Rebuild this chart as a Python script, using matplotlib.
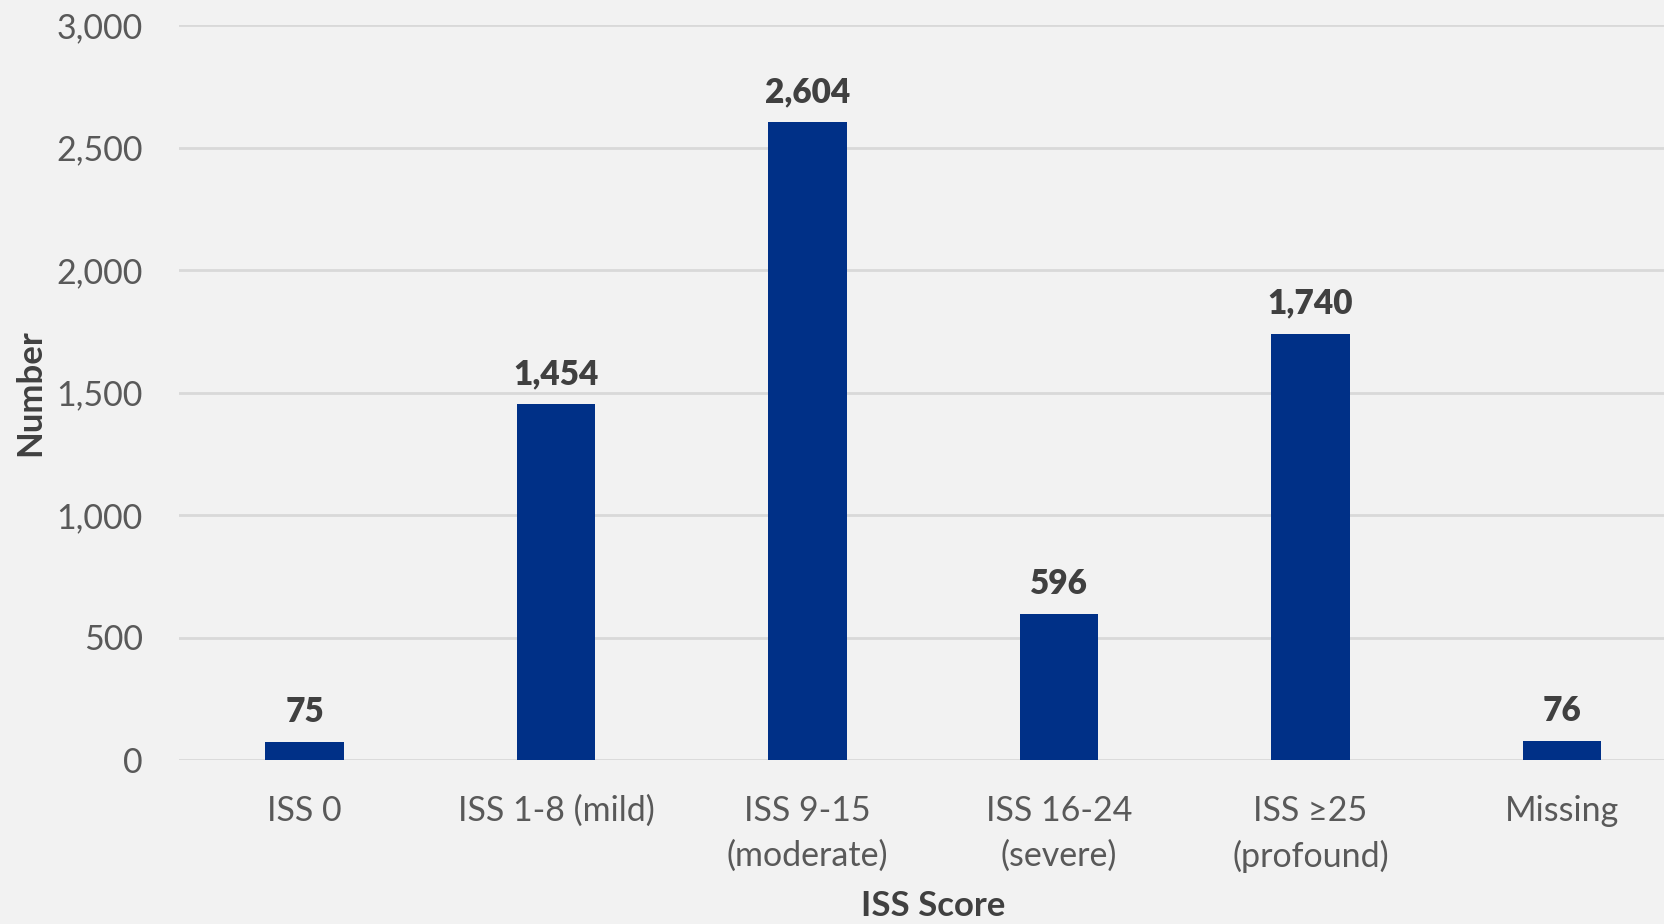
import numpy as np
import matplotlib
matplotlib.use('Agg')
import matplotlib.pyplot as plt

categories = ['ISS 0', 'ISS 1-8 (mild)', 'ISS 9-15\n(moderate)', 'ISS 16-24\n(severe)', 'ISS \u226525\n(profound)', 'Missing']
values = [75, 1454, 2604, 596, 1740, 76]
yticks = [0, 500, 1000, 1500, 2000, 2500, 3000]

plt.rcParams['font.family'] = ['Lato', 'DejaVu Sans']

bg = '#f2f2f2'
fig = plt.figure(figsize=(16.65, 9.24), dpi=100, facecolor=bg)
# axes runs past the right edge, like the original crop
ax = fig.add_axes([179/1665, 1-760/924, (1687.6-179)/1665, (760-25)/924])
ax.set_facecolor(bg)

x = np.arange(len(values))
bars = ax.bar(x, values, width=0.312, color='#003087', zorder=3)
ax.set_xlim(-0.5, len(values)-0.5)
ax.set_ylim(0, 3000)

for xi, v in zip(x, values):
	ax.annotate(f'{v:,}', (xi, v), xytext=(0, 10), textcoords='offset points',
		ha='center', va='bottom', fontsize=24, fontweight='heavy', color='#404040')

ax.set_yticks(yticks)
ax.set_yticklabels([f'{t:,}' for t in yticks])
ax.set_xticks(x)
ax.set_xticklabels(categories, linespacing=1.5)
ax.tick_params(axis='y', length=0, pad=26, labelsize=24.5, labelcolor='#595959')
ax.tick_params(axis='x', length=0, pad=25, labelsize=24.5, labelcolor='#595959')
ax.grid(axis='y', color='#d9d9d9', linewidth=2, zorder=0)
for s in ax.spines.values():
	s.set_visible(False)

fig.text(933/1665, 1-906/924, 'ISS Score', ha='center', va='center',
	fontsize=25, fontweight='bold', color='#404040')
fig.text(30/1665, 1-393/924, 'Number', ha='center', va='center', rotation=90,
	fontsize=25, fontweight='bold', color='#404040')

fig.savefig('out.png', dpi=100, facecolor=bg)
